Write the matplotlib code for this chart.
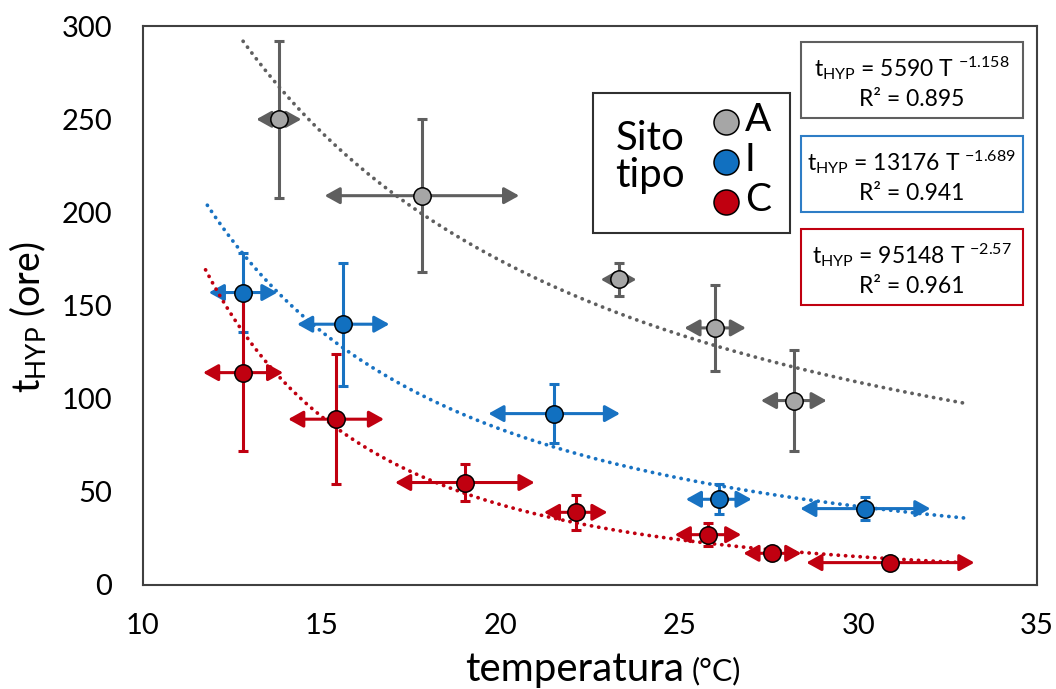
import matplotlib
matplotlib.use("Agg")
import matplotlib.pyplot as plt
import numpy as np
from matplotlib.patches import Rectangle

plt.rcParams['font.family'] = ['Lato', 'DejaVu Sans']
plt.rcParams['mathtext.fontset'] = 'custom'
plt.rcParams['mathtext.rm'] = 'Lato'
plt.rcParams['mathtext.it'] = 'Lato:italic'

# --- dati ---
siti = ['A', 'I', 'C']
colori = ['#A6A6A6', '#1170C0', '#C00010']
colori_barre = ['#5F5F5F', '#1872C2', '#C00010']

x_A = [13.8, 17.8, 23.3, 26.0, 28.2]
y_A = [250, 209, 164, 138, 99]
yerr_A = [42, 41, 9, 23, 27]
xerr_A = [0.63, 2.72, 0.5, 0.86, 0.92]

x_I = [12.8, 15.6, 21.5, 26.1, 30.2]
y_I = [157, 140, 92, 46, 41]
yerr_I = [21, 33, 16, 8, 6]
xerr_I = [0.96, 1.29, 1.84, 0.92, 1.82]

x_C = [12.8, 15.4, 19.0, 22.1, 25.8, 27.6, 30.9]
y_C = [114, 89, 55, 39, 27, 17, 12]
yerr_C = [42, 35, 10, 9.5, 6, 0, 0]
xerr_C = [1.12, 1.34, 1.95, 0.89, 0.93, 0.81, 2.35]

# trend di potenza t = a * T^b
coef_a = [5590, 13176, 95148]
coef_b = [-1.158, -1.689, -2.57]
r2 = ['0.895', '0.941', '0.961']
coef_txt = ['5590', '13176', '95148']
exp_txt = ['-1.158', '-1.689', '-2.57']
trend_da = [12.8, 11.8, 11.75]
trend_a = [33.1, 33.1, 33.1]

serie = [(x_A, y_A, xerr_A, yerr_A), (x_I, y_I, xerr_I, yerr_I), (x_C, y_C, xerr_C, yerr_C)]

fig = plt.figure(figsize=(10.56, 6.89), dpi=100)
ax = fig.add_axes([0.1354, 0.151, 0.8466, 0.811])
ax.set_xlim(10, 35)
ax.set_ylim(0, 300)
ax.set_xticks([10, 15, 20, 25, 30, 35])
ax.set_yticks([0, 50, 100, 150, 200, 250, 300])
ax.tick_params(length=0, labelsize=21)
ax.tick_params(axis='x', pad=20)
ax.tick_params(axis='y', pad=22)
for s in ax.spines.values():
    s.set_color('#404040')
    s.set_linewidth(1.5)

# linee di tendenza
for i in range(3):
    T = np.linspace(trend_da[i], trend_a[i], 200)
    ax.plot(T, coef_a[i] * T ** coef_b[i], color=colori_barre[i],
            linewidth=2.7, linestyle=(0, (0.05, 1.9)), dash_capstyle='round', zorder=4)

# barre d'errore + punti
for i, (xs, ys, xe, ye) in enumerate(serie):
    c = colori_barre[i]
    ax.errorbar(xs, ys, yerr=ye, fmt='none', ecolor=c, elinewidth=2.2,
                capsize=3.5, capthick=2.2, zorder=3)
    for xv, yv, ex in zip(xs, ys, xe):
        for d in (-1, 1):
            ax.annotate('', xy=(xv + d * ex, yv), xytext=(xv, yv),
                        arrowprops=dict(arrowstyle='-|>,head_length=0.45,head_width=0.25',
                                        color=c, lw=2.2, mutation_scale=20,
                                        shrinkA=0, shrinkB=0), zorder=3)
    ax.plot(xs, ys, 'o', markersize=12.5, markerfacecolor=colori[i],
            markeredgecolor='black', markeredgewidth=1.1, linestyle='none', zorder=5)

# legenda manuale
ax.add_patch(Rectangle((0.503, 0.630), 0.221, 0.250, transform=ax.transAxes,
                       facecolor='white', edgecolor='#303030', linewidth=1.5, zorder=6))
ax.text(0.567, 0.765, "Sito\ntipo", transform=ax.transAxes, ha='center', va='center',
        fontsize=29, linespacing=1.0, zorder=7)
leg_y = [0.828, 0.757, 0.685]
for i in range(3):
    ax.plot([0.652], [leg_y[i]], 'o', transform=ax.transAxes, markersize=18,
            markerfacecolor=colori[i], markeredgecolor='black', markeredgewidth=1.1,
            zorder=7, clip_on=False)
    ax.text(0.673, leg_y[i] + 0.004, siti[i], transform=ax.transAxes, ha='left', va='center',
            fontsize=28, zorder=7)

# riquadri equazioni
box_y = [0.835, 0.667, 0.501]
bordi = ['#5F5F5F', '#2E7DC6', '#C00010']
for i in range(3):
    ax.add_patch(Rectangle((0.736, box_y[i]), 0.248, 0.136, transform=ax.transAxes,
                           facecolor='white', edgecolor=bordi[i], linewidth=1.5, zorder=6))
    ax.text(0.860, box_y[i] + 0.090,
            r"t$_{\mathrm{HYP}}$ = " + coef_txt[i] + r" T $^{\mathrm{" + exp_txt[i] + "}}$",
            transform=ax.transAxes, ha='center', va='center', fontsize=16.5, zorder=7)
    ax.text(0.860, box_y[i] + 0.033, "R² = " + r2[i],
            transform=ax.transAxes, ha='center', va='center', fontsize=16.5, zorder=7)

# etichette assi
fig.text(0.026, 0.54, r"t$_{\mathrm{HYP}}$ (ore)", rotation=90, ha='center', va='center',
         fontsize=27)
fig.text(0.648, 0.012, "temperatura", ha='right', va='baseline', fontsize=29)
fig.text(0.655, 0.012, "(°C)", ha='left', va='baseline', fontsize=22)

fig.savefig("out.png", dpi=100)
